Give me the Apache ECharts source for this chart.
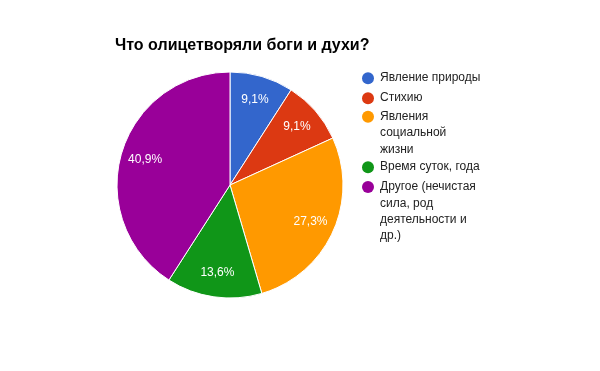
<!DOCTYPE html>
<html>
<head>
<meta charset="utf-8">
<script src="https://cdn.jsdelivr.net/npm/echarts@6/dist/echarts.min.js"></script>
<style>
html,body{margin:0;padding:0;background:#fff;}
#chart{width:600px;height:371px;}
</style>
</head>
<body>
<div id="chart"></div>
<script>
const titleText = 'Что олицетворяли боги и духи?';
const categories = ['Явление природы', 'Стихию', 'Явления социальной жизни', 'Время суток, года', 'Другое (нечистая сила, род деятельности и др.)'];
const legendLabels = ['Явление природы', 'Стихию', 'Явления\nсоциальной\nжизни', 'Время суток, года', 'Другое (нечистая\nсила, род\nдеятельности и\nдр.)'];
const values = [2, 2, 6, 3, 9];
const colors = ['#3366cc', '#dc3912', '#ff9900', '#109618', '#990099'];

const FONT = '"Liberation Sans", Arial, sans-serif';
const legendTops = [70, 90, 76, 159, 130];
const LH = 16.3;

const pieData = categories.map((c, i) => ({ name: c, value: values[i], itemStyle: { color: colors[i] } }));

const legends = categories.map((c, i) => {
  const lines = legendLabels[i].split('\n');
  const pad = lines.length > 1 ? '\n'.repeat(lines.length - 1) : '';
  return {
    show: true,
    orient: 'vertical',
    left: 362,
    top: legendTops[i],
    padding: 0,
    itemWidth: 12,
    itemHeight: 12,
    icon: 'circle',
    selectedMode: false,
    itemStyle: { borderWidth: 0 },
    data: [c],
    formatter: () => pad + legendLabels[i],
    textStyle: { fontFamily: FONT, fontSize: 12, color: '#222222', lineHeight: LH, padding: [0, 0, 0, 1] }
  };
});

const chart = echarts.init(document.getElementById('chart'), null, { renderer: 'canvas' });
chart.setOption({
  backgroundColor: '#ffffff',
  animation: false,
  title: {
    text: titleText,
    left: 115,
    top: 38,
    padding: 0,
    textStyle: { fontFamily: FONT, fontSize: 16, fontWeight: 'bold', color: '#000000' }
  },
  legend: legends,
  series: [
    {
      type: 'pie',
      center: [230, 185],
      radius: [0, 113],
      startAngle: 90,
      clockwise: true,
      data: pieData,
      label: { show: false },
      labelLine: { show: false },
      itemStyle: { borderColor: '#ffffff', borderWidth: 1 },
      emphasis: { disabled: true }
    },
    {
      type: 'pie',
      center: [230, 185],
      radius: [58, 113],
      startAngle: 90,
      clockwise: true,
      silent: true,
      data: pieData.map(d => ({ name: d.name, value: d.value, itemStyle: { color: 'rgba(0,0,0,0)' } })),
      itemStyle: { borderWidth: 0 },
      label: {
        show: true,
        position: 'inside',
        formatter: p => p.percent.toFixed(1).replace('.', ',') + '%',
        fontFamily: FONT,
        fontSize: 12,
        color: '#ffffff',
        rotate: 0
      },
      labelLine: { show: false },
      emphasis: { disabled: true }
    }
  ]
});
</script>
</body>
</html>
